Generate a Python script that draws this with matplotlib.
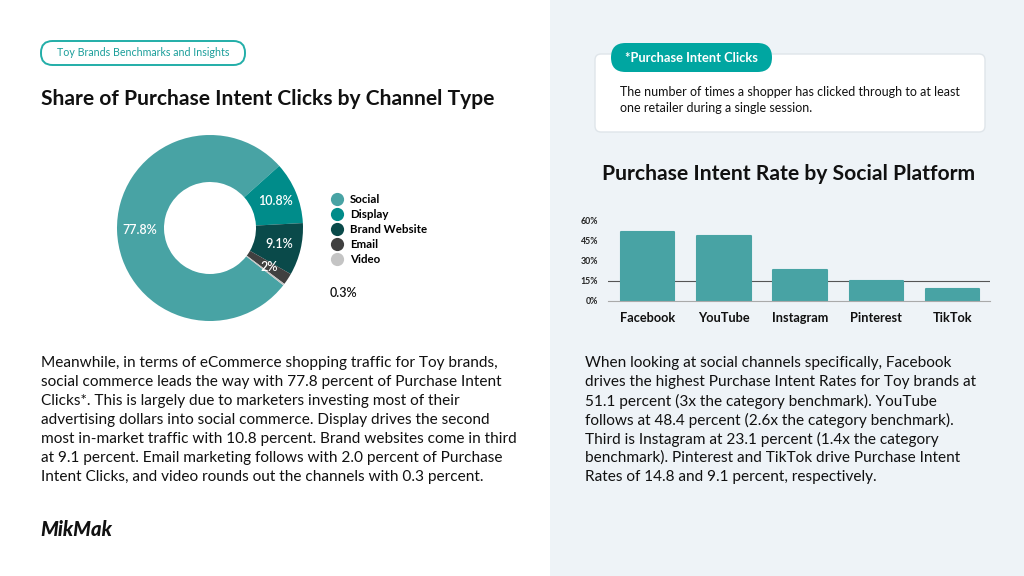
import numpy as np
import matplotlib.pyplot as plt
from matplotlib.patches import FancyBboxPatch, Rectangle
from matplotlib.lines import Line2D

plt.rcParams['font.family'] = ['Lato', 'DejaVu Sans']

# donut data
channels = ["Social", "Display", "Brand Website", "Email", "Video"]
channel_share = [77.8, 10.8, 9.1, 2.0, 0.3]
channel_labels = ["77.8%", "10.8%", "9.1%", "2%", "0.3%"]
channel_colors = ["#48a3a4", "#008c8a", "#0a4a4a", "#404040", "#c4c4c4"]

# bar data
platforms = ["Facebook", "YouTube", "Instagram", "Pinterest", "TikTok"]
intent_rate = [51.1, 48.4, 23.1, 14.8, 9.1]
rate_ticks = [0, 15, 30, 45, 60]

W, H = 1024, 576
fig = plt.figure(figsize=(W / 100, H / 100), dpi=100)
fig.patch.set_facecolor("white")


def box(x0, y0, x1, y1):
    # pixel box (top-left origin) -> figure fraction rect
    return [x0 / W, 1 - y1 / H, (x1 - x0) / W, (y1 - y0) / H]


def fx(x):
    return x / W


def fy(y):
    return 1 - y / H


def rounded(x0, y0, x1, y1, r, **kw):
    # r is the corner radius in pixels
    p = FancyBboxPatch((fx(x0), fy(y1)), fx(x1) - fx(x0), fy(y0) - fy(y1),
                       boxstyle=f"round,pad=0,rounding_size={r / W}",
                       mutation_aspect=W / H, transform=fig.transFigure, **kw)
    fig.patches.append(p)


# background panel on the right
fig.patches.append(Rectangle((fx(550), 0), 1 - fx(550), 1, transform=fig.transFigure,
                             facecolor="#eef3f7", edgecolor="none", zorder=-2))

# top-left pill
rounded(41, 41, 245, 65, 11.5, facecolor="white", edgecolor="#22aea8",
        linewidth=1.4, zorder=1)
fig.text(fx(143), fy(53), "Toy Brands Benchmarks and Insights", color="#1a9e9a",
         fontsize=7.7, ha="center", va="center", zorder=3)

fig.text(fx(41), fy(99), "Share of Purchase Intent Clicks by Channel Type",
         fontsize=15.1, fontweight="bold", color="#111111", ha="left", va="center")

# donut
ax = fig.add_axes(box(110, 128, 310, 328))
wedges, texts, autotexts = ax.pie(
    channel_share, colors=channel_colors, startangle=-38, counterclock=False,
    radius=0.93, autopct="%1.1f%%", pctdistance=0.76,
    wedgeprops=dict(width=0.47, edgecolor="none"))
for t, lab in zip(autotexts, channel_labels):
    t.set_text(lab)
    t.set_color("white")
    t.set_fontsize(9)
    t.set_fontweight("semibold")
autotexts[-1].set_color("#111111")
autotexts[-1].set_position((1.33, -0.65))
ax.set_xlim(-1, 1)
ax.set_ylim(-1, 1)
ax.set_aspect("equal")
ax.axis("off")

handles = [Line2D([], [], marker="o", linestyle="none", markersize=9.5,
                  markerfacecolor=c, markeredgecolor="none") for c in channel_colors]
fig.legend(handles, channels, loc="upper left", bbox_to_anchor=(fx(327), fy(189)),
           frameon=False, handletextpad=0.6, labelspacing=0.36,
           handlelength=1.0, borderaxespad=0, prop=dict(weight="bold", size=8.3))

# left paragraph
left_lines = [
    "Meanwhile, in terms of eCommerce shopping traffic for Toy brands,",
    "social commerce leads the way with 77.8 percent of Purchase Intent",
    "Clicks*. This is largely due to marketers investing most of their",
    "advertising dollars into social commerce. Display drives the second",
    "most in-market traffic with 10.8 percent. Brand websites come in third",
    "at 9.1 percent. Email marketing follows with 2.0 percent of Purchase",
    "Intent Clicks, and video rounds out the channels with 0.3 percent.",
]
for i, line in enumerate(left_lines):
    fig.text(fx(41), fy(363 + i * 19), line, fontsize=11.1, color="#111111",
             ha="left", va="center")

fig.text(fx(40), fy(530), "MikMak", fontsize=14.5, fontweight="black", fontstyle="italic",
         color="#111111", ha="left", va="center")

# definition card
rounded(595, 54, 985, 132, 6, facecolor="white", edgecolor="#dfe5ea",
        linewidth=1, zorder=1)
rounded(611, 43, 772, 72, 14.5, facecolor="#00a6a1", edgecolor="none", zorder=2)
fig.text(fx(691), fy(57.5), "*Purchase Intent Clicks", color="white", fontsize=9.3,
         fontweight="bold", ha="center", va="center", zorder=3)
fig.text(fx(620), fy(92), "The number of times a shopper has clicked through to at least",
         fontsize=9.0, color="#111111", ha="left", va="center", zorder=3)
fig.text(fx(620), fy(108), "one retailer during a single session.",
         fontsize=9.0, color="#111111", ha="left", va="center", zorder=3)

fig.text(fx(789), fy(174), "Purchase Intent Rate by Social Platform",
         fontsize=15.2, fontweight="bold", color="#111111", ha="center", va="center")

# bar chart
bx = fig.add_axes(box(608, 220, 990, 301))
bx.set_zorder(5)
bx.set_facecolor("none")
xpos = np.arange(len(platforms))
bx.bar(xpos, intent_rate, width=0.7, color="#48a3a4", edgecolor="#48a3a4",
       linewidth=1.5, joinstyle="round", zorder=2)
bx.axhline(15, color="#555555", linewidth=0.8, zorder=1)
bx.set_xlim(-0.52, 4.49)
bx.set_ylim(0, 60)
bx.set_yticks(rate_ticks)
bx.set_yticklabels([f"{v}%" for v in rate_ticks], fontsize=6.3, fontweight="bold",
                   color="#222222")
bx.set_xticks(xpos)
bx.set_xticklabels(platforms, fontsize=9.2, fontweight="bold", color="#111111")
bx.tick_params(length=0, axis="y", pad=7)
bx.tick_params(length=0, axis="x", pad=8)
for s in ["top", "right", "left"]:
    bx.spines[s].set_visible(False)
bx.spines["bottom"].set_color("#aaaaaa")
bx.spines["bottom"].set_linewidth(0.8)

right_lines = [
    "When looking at social channels specifically, Facebook",
    "drives the highest Purchase Intent Rates for Toy brands at",
    "51.1 percent (3x the category benchmark). YouTube",
    "follows at 48.4 percent (2.6x the category benchmark).",
    "Third is Instagram at 23.1 percent (1.4x the category",
    "benchmark). Pinterest and TikTok drive Purchase Intent",
    "Rates of 14.8 and 9.1 percent, respectively.",
]
for i, line in enumerate(right_lines):
    fig.text(fx(585), fy(363 + i * 19), line, fontsize=11.1, color="#111111",
             ha="left", va="center")

fig.savefig("out.png", dpi=100, facecolor=fig.get_facecolor())
